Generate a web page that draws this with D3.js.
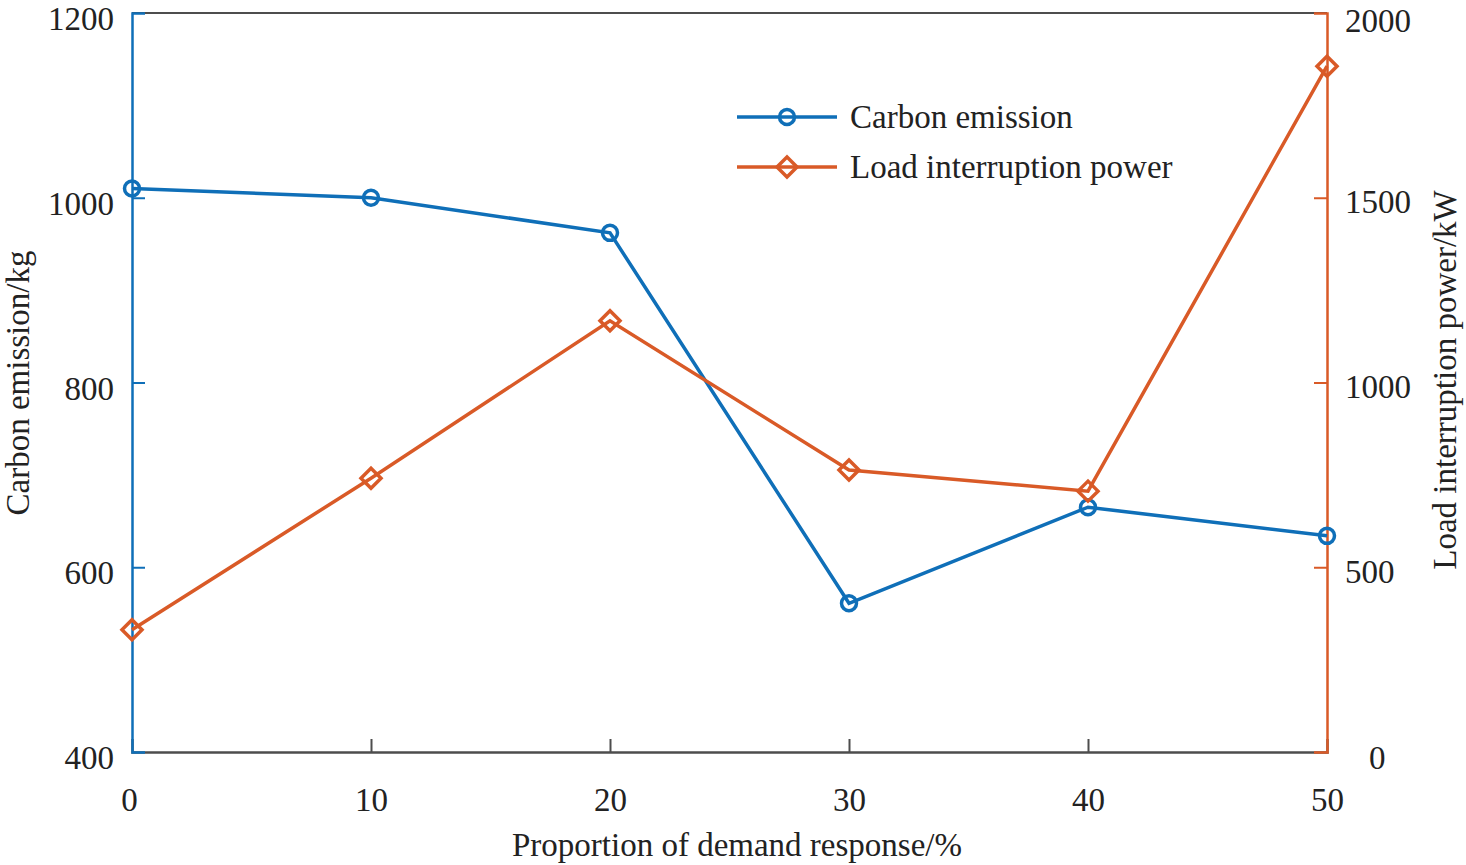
<!DOCTYPE html>
<html><head><meta charset="utf-8">
<script src="https://cdn.jsdelivr.net/npm/d3@7"></script>
<style>body{margin:0;background:#fff}svg{display:block}text{font-family:"Liberation Serif","Times New Roman",serif;fill:#222}</style>
</head><body><svg id="c" width="1466" height="865"></svg>
<script>
const xValues = [0, 10, 20, 30, 40, 50];
const carbonEmission = [1010, 1000, 962, 561, 665, 634];
const loadInterruption = [331, 741, 1167, 763, 706, 1856];
const xTicks = [0, 10, 20, 30, 40, 50];
const leftTicks = [400, 600, 800, 1000, 1200];
const rightTicks = [0, 500, 1000, 1500, 2000];

const blue = "#0f6fb8", orange = "#d95a27", axisGrey = "#4d4d4d";
const L = 132, R = 1327, T = 13, B = 752;
const svg = d3.select("#c");
const x = d3.scaleLinear().domain([0, 50]).range([L, R]);
const yL = d3.scaleLinear().domain([400, 1200]).range([B, T]);
const yR = d3.scaleLinear().domain([0, 2000]).range([B, T]);
const fs = 33;

svg.append("line").attr("x1", L).attr("x2", R).attr("y1", T).attr("y2", T).attr("stroke", axisGrey).attr("stroke-width", 2);
const xa = svg.append("g").attr("transform", `translate(0,${B})`)
  .call(d3.axisBottom(x).tickValues(xTicks).tickSize(-13).tickPadding(0).tickFormat(d3.format("d")));
xa.select(".domain").attr("stroke", axisGrey).attr("stroke-width", 2.5);
xa.selectAll(".tick line").attr("stroke", axisGrey).attr("stroke-width", 2);
xa.selectAll(".tick text").attr("font-size", fs).attr("dy", null).attr("y", 59).attr("fill", "#222")
  .attr("font-family", "Liberation Serif");
xa.selectAll(".tick").filter(d => d === 0 || d === 50).select("line").remove();
xa.selectAll(".tick").filter(d => d === 0).select("text").attr("x", -3);

const la = svg.append("g").attr("transform", `translate(${L},0)`)
  .call(d3.axisLeft(yL).tickValues(leftTicks).tickSize(-13).tickPadding(18).tickFormat(d3.format("d")));
la.select(".domain").attr("stroke", blue).attr("stroke-width", 2.5);
la.selectAll(".tick line").attr("stroke", blue).attr("stroke-width", 2);
la.selectAll(".tick text").attr("font-size", fs).attr("dy", "0.5em").attr("fill", "#222").attr("font-family", "Liberation Serif");
la.selectAll(".tick").filter(d => d === 1200 || d === 400).select("line").remove();

const ra = svg.append("g").attr("transform", `translate(${R},0)`)
  .call(d3.axisRight(yR).tickValues(rightTicks).tickSize(-13).tickPadding(18).tickFormat(d3.format("d")));
ra.select(".domain").attr("stroke", orange).attr("stroke-width", 2.5);
ra.selectAll(".tick line").attr("stroke", orange).attr("stroke-width", 2);
ra.selectAll(".tick text").attr("font-size", fs).attr("dy", "0.45em").attr("fill", "#222").attr("font-family", "Liberation Serif");
ra.selectAll(".tick").filter(d => d === 0 || d === 2000).select("line").remove();
ra.selectAll(".tick").filter(d => d === 0).select("text").attr("x", 42).attr("dy", "0.5em");
ra.selectAll(".tick").filter(d => d === 2000).select("text").attr("dy", "0.57em");

svg.append("text").attr("x", 737).attr("y", 856).attr("text-anchor", "middle").attr("font-size", fs)
  .text("Proportion of demand response/%");
svg.append("text").attr("transform", "translate(29,383) rotate(-90)").attr("text-anchor", "middle").attr("font-size", fs)
  .text("Carbon emission/kg");
svg.append("text").attr("transform", "translate(1456,380) rotate(-90)").attr("text-anchor", "middle").attr("font-size", fs)
  .text("Load interruption power/kW");

const lineL = d3.line().x((d, i) => x(xValues[i])).y(d => yL(d));
const lineR = d3.line().x((d, i) => x(xValues[i])).y(d => yR(d));
svg.append("path").datum(carbonEmission).attr("d", lineL).attr("fill", "none").attr("stroke", blue).attr("stroke-width", 3.5);
svg.append("path").datum(loadInterruption).attr("d", lineR).attr("fill", "none").attr("stroke", orange).attr("stroke-width", 3.5);
svg.selectAll(".cm").data(carbonEmission).enter().append("circle")
  .attr("cx", (d, i) => x(xValues[i])).attr("cy", d => yL(d)).attr("r", 7.5)
  .attr("fill", "none").attr("stroke", blue).attr("stroke-width", 3.5);
const dia = s => `M0,${-s}L${s},0L0,${s}L${-s},0Z`;
svg.selectAll(".dm").data(loadInterruption).enter().append("path")
  .attr("transform", (d, i) => `translate(${x(xValues[i])},${yR(d)})`).attr("d", dia(10))
  .attr("fill", "none").attr("stroke", orange).attr("stroke-width", 3.5);

const lg = svg.append("g");
const legendItems = [["Carbon emission", blue, "c", 117], ["Load interruption power", orange, "d", 167]];
legendItems.forEach(([name, col, m, y]) => {
  lg.append("line").attr("x1", 737).attr("x2", 837).attr("y1", y).attr("y2", y).attr("stroke", col).attr("stroke-width", 3.5);
  if (m === "c") lg.append("circle").attr("cx", 787).attr("cy", y).attr("r", 7.5).attr("fill", "none").attr("stroke", col).attr("stroke-width", 3.5);
  else lg.append("path").attr("transform", `translate(787,${y})`).attr("d", dia(10)).attr("fill", "none").attr("stroke", col).attr("stroke-width", 3.5);
  lg.append("text").attr("x", 850).attr("y", y).attr("dy", "0.33em").attr("font-size", fs).text(name);
});
</script></body></html>
